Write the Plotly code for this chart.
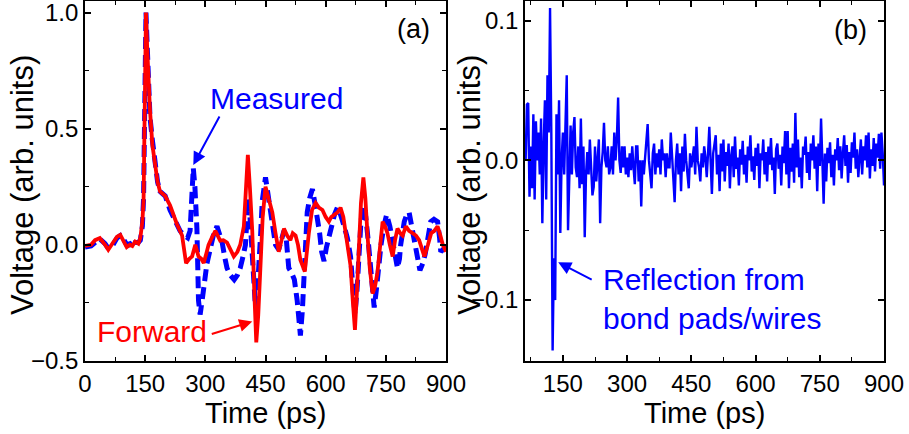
import plotly.graph_objects as go

# ---------------- Panel (a) data ----------------
fwd_t = [0, 15, 25, 37, 50, 58, 70, 80, 88, 96, 104, 112, 118, 125, 133, 138, 143, 146, 149, 152,
         155, 158, 162, 168, 175, 181, 187, 200, 212, 220, 229, 242, 252, 260, 267, 275, 283, 290,
         296, 302, 308, 316, 325, 337, 345, 354, 362, 371, 380, 387, 396, 401, 406, 411, 417, 422,
         427, 432, 437, 443, 450, 458, 467, 475, 483, 490, 496, 504, 512, 518, 525, 531, 537, 548,
         553, 558, 566, 575, 583, 592, 600, 608, 614, 621, 630, 637, 644, 650, 656, 662, 668, 673,
         678, 683, 688, 694, 699, 704, 710, 717, 723, 729, 736, 742, 748, 754, 760, 767, 773, 779,
         786, 792, 800, 808, 817, 825, 833, 840, 846, 855, 863, 871, 879, 886, 892, 900]
fwd_v = [-0.005, 0.0, 0.02, 0.029, 0.0, -0.021, 0.01, 0.035, 0.043, 0.02, -0.01, 0.0, -0.005, 0.014,
         0.005, 0.03, 0.1, 0.19, 0.6, 1.0, 0.85, 0.7, 0.58, 0.43, 0.337, 0.27, 0.23, 0.21, 0.17, 0.13,
         0.09, 0.04, -0.079, -0.06, -0.05, 0.0, -0.05, -0.06, -0.078, -0.04, 0.0, 0.03, 0.06, 0.018,
         0.02, 0.01, -0.02, -0.05, -0.03, 0.0, 0.08, 0.25, 0.387, 0.25, 0.06, -0.2, -0.42, -0.3,
         -0.09, 0.12, 0.25, 0.2, 0.14, 0.05, -0.03, 0.02, 0.07, 0.04, 0.02, 0.05, 0.04, 0.0, -0.065,
         -0.115, -0.03, 0.05, 0.15, 0.18, 0.16, 0.15, 0.12, 0.1, 0.12, 0.13, 0.14, 0.16, 0.12, 0.05,
         -0.02, -0.09, -0.25, -0.366, -0.2, 0.0, 0.18, 0.29, 0.2, 0.05, -0.1, -0.21, -0.18, -0.12,
         0.0, 0.1, 0.08, 0.05, 0.0, -0.05, 0.02, 0.07, 0.05, 0.04, 0.08, 0.06, 0.05, 0.04, 0.02,
         -0.02, -0.05, 0.0, 0.05, 0.06, 0.08, 0.04, 0.0, -0.03]

meas_t = [0, 15, 25, 37, 50, 58, 70, 80, 88, 96, 104, 112, 118, 125, 133, 138, 143, 146, 149, 152,
          155, 158, 162, 168, 175, 181, 187, 200, 212, 225, 237, 248, 256, 262, 266, 270, 274, 279,
          283, 287, 292, 296, 304, 312, 320, 329, 336, 342, 348, 354, 362, 372, 380, 387, 394, 400,
          404, 408, 412, 417, 421, 425, 429, 433, 438, 442, 446, 450, 456, 462, 469, 475, 483, 490,
          496, 502, 508, 515, 522, 529, 533, 537, 542, 546, 550, 554, 560, 567, 573, 579, 585, 590,
          596, 602, 608, 615, 622, 629, 637, 646, 654, 662, 668, 673, 678, 683, 688, 694, 700, 706,
          711, 716, 721, 726, 732, 738, 745, 752, 760, 767, 773, 779, 784, 787, 796, 802, 808, 815,
          821, 828, 835, 842, 848, 855, 862, 870, 879, 884, 887, 893, 900]
meas_v = [-0.01, -0.005, 0.01, 0.025, 0.005, -0.015, 0.0, 0.03, 0.04, 0.025, 0.0, 0.005, -0.01, 0.01,
          0.01, 0.02, 0.08, 0.2, 0.6, 1.0, 0.86, 0.72, 0.55, 0.45, 0.33, 0.27, 0.23, 0.21, 0.15, 0.1,
          0.06, 0.04, 0.03, 0.06, 0.2, 0.33, 0.25, 0.07, -0.24, -0.3, -0.24, -0.17, -0.08, -0.02, 0.04,
          0.08, 0.05, 0.01, -0.05, -0.1, -0.13, -0.15, -0.13, -0.1, -0.05, 0.0, 0.12, 0.2, 0.1, -0.07,
          -0.18, -0.27, -0.22, -0.13, 0.05, 0.19, 0.26, 0.29, 0.22, 0.15, 0.07, 0.0, -0.02, 0.03, 0.06,
          0.02, -0.1, -0.12, -0.15, -0.24, -0.33, -0.39, -0.28, -0.15, 0.0, 0.14, 0.2, 0.24, 0.18, 0.12,
          0.05, -0.03, -0.07, -0.01, 0.04, 0.09, 0.13, 0.16, 0.13, 0.08, 0.03, -0.05, -0.2, -0.3, -0.2,
          -0.02, 0.1, 0.17, 0.12, 0.02, -0.1, -0.2, -0.27, -0.2, -0.09, 0.0, 0.08, 0.13, 0.08, 0.02,
          -0.05, -0.1, -0.06, 0.0, 0.1, 0.13, 0.14, 0.08, 0.02, -0.05, -0.11, -0.08, -0.04, 0.03, 0.1,
          0.11, 0.1, 0.03, -0.03, -0.02, 0.0]

# ---------------- Panel (b) data: sampled every 3 ps from 63 ps to 900 ps ----------------
refl_t = list(range(63, 901, 3))
refl_v = [
    0.0, 0.04, 0.041, -0.026, 0.01, -0.02, 0.033, -0.028, 0.028, 0.0,
    0.02, -0.01, 0.03, -0.045, 0.01, 0.043, -0.028, 0.061, 0.02, 0.109,
    0.019, -0.136, -0.07, -0.1, 0.033, -0.01, 0.043, -0.052, 0.0, 0.02,
    -0.01, 0.02, 0.061, -0.05, 0.0, 0.025, -0.01, 0.02, 0.031, -0.005,
    -0.012, 0.01, -0.02, 0.03, -0.017, 0.01, -0.055, -0.01, 0.006, -0.01,
    0.015, -0.004, -0.025, -0.019, 0.01, -0.015, 0.0, 0.015, -0.045, -0.005,
    0.006, 0.027, 0.0, -0.005, 0.01, -0.01, -0.005, 0.01, -0.01, 0.02,
    0.0, 0.015, 0.045, 0.0, -0.009, 0.01, -0.005, 0.01, -0.01, 0.002,
    -0.012, 0.005, -0.007, 0.01, -0.005, -0.017, 0.01, 0.01, -0.015, 0.0,
    -0.033, 0.0, -0.01, 0.002, 0.01, 0.026, 0.0, -0.01, -0.02, 0.005,
    0.012, -0.01, 0.005, -0.005, 0.008, -0.01, 0.015, 0.0, 0.005, -0.012,
    0.005, -0.005, -0.005, 0.02, 0.0, -0.015, -0.03, 0.0, 0.012, -0.01,
    0.005, -0.022, 0.01, -0.008, 0.019, 0.0, -0.01, -0.02, 0.005, -0.005,
    0.002, 0.01, -0.01, 0.024, 0.0, -0.005, -0.015, 0.005, -0.005, 0.01,
    0.002, -0.012, 0.005, 0.024, 0.0, -0.024, 0.005, 0.01, 0.018, -0.01,
    0.004, -0.022, 0.012, -0.008, 0.015, -0.015, 0.006, -0.004, 0.012, -0.02,
    0.003, 0.01, -0.012, 0.017, -0.006, 0.002, -0.018, 0.008, -0.003, 0.014,
    -0.01, 0.004, -0.016, 0.01, 0.0, 0.018, -0.008, 0.003, -0.014, 0.009,
    -0.004, 0.012, -0.02, 0.005, 0.0, 0.015, -0.01, 0.006, -0.015, 0.01,
    -0.003, 0.016, -0.007, 0.002, -0.024, 0.008, 0.012, -0.006, 0.004, -0.018,
    0.01, -0.002, 0.021, -0.01, 0.021, -0.02, 0.009, -0.008, 0.012, -0.016,
    0.034, -0.005, 0.015, -0.012, 0.002, -0.02, 0.01, 0.004, 0.017, -0.009,
    0.006, -0.014, 0.012, 0.0, 0.018, -0.006, 0.01, -0.022, 0.012, -0.004,
    0.03, 0.0, -0.031, 0.005, -0.015, 0.009, -0.002, 0.013, -0.012, 0.004,
    -0.018, 0.008, 0.0, 0.016, -0.007, 0.01, -0.013, 0.005, 0.018, -0.004,
    0.011, -0.016, 0.006, -0.009, 0.013, 0.002, 0.02, -0.006, 0.008, -0.012,
    0.004, 0.015, -0.01, 0.01, 0.0, 0.018, -0.005, 0.02, -0.013, 0.008,
    -0.004, 0.016, -0.008, 0.012, 0.002, 0.019, -0.006, 0.02, 0.005, -0.018,
]

x_ticks = [0, 150, 300, 450, 600, 750, 900]

BLUE = "#0000FF"
RED = "#FF0000"
FONT = "Liberation Sans, Arial, sans-serif"

fig = go.Figure()
fig.add_trace(go.Scatter(x=meas_t, y=meas_v, mode="lines", name="Measured",
                         line=dict(color=BLUE, width=5, dash="12px,6px"),
                         xaxis="x", yaxis="y"))
fig.add_trace(go.Scatter(x=fwd_t, y=fwd_v, mode="lines", name="Forward",
                         line=dict(color=RED, width=3.8),
                         xaxis="x", yaxis="y"))
fig.add_trace(go.Scatter(x=refl_t, y=refl_v, mode="lines", name="Reflection",
                         line=dict(color=BLUE, width=2.4),
                         xaxis="x2", yaxis="y2"))

W, H = 909, 434

def px(x):
    return x / W

def py(y):
    return 1 - y / H

minor_style = dict(ticks="inside", ticklen=4, tickwidth=1.3, tickcolor="black")
axis_common = dict(showline=True, linecolor="black", linewidth=1.6, mirror="allticks",
                   ticks="inside", ticklen=6, tickwidth=1.5, tickcolor="black",
                   showgrid=False, zeroline=False, automargin=False,
                   ticklabeloverflow="allow",
                   tickfont=dict(family=FONT, size=24, color="black"))

fig.update_layout(
    template="none",
    width=W, height=H, margin=dict(l=0, r=0, t=0, b=0, pad=0), autosize=False,
    paper_bgcolor="white", plot_bgcolor="white", showlegend=False,
    font=dict(family=FONT, color="black"),
    xaxis=dict(domain=[px(85), px(446)], range=[0, 900], tickvals=x_ticks,
               minor=dict(dtick=75, **minor_style), anchor="y", **axis_common),
    yaxis=dict(domain=[py(361), py(1)], range=[-0.5, 1.0495], tickvals=[-0.5, 0.0, 0.5, 1.0],
               tickformat=".1f", minor=dict(dtick=0.25, **minor_style), anchor="x", **axis_common),
    xaxis2=dict(domain=[px(525), px(884)], range=[61.5, 900], tickvals=x_ticks[1:],
                minor=dict(dtick=75, **minor_style), anchor="y2", **axis_common),
    yaxis2=dict(domain=[py(361), py(1)], range=[-0.1436, 0.1141], tickvals=[-0.1, 0.0, 0.1],
                tickformat=".1f", minor=dict(dtick=0.05, **minor_style), anchor="x2", **axis_common),
)


def label(text, x, y, size, color="black", **kw):
    d = dict(text=text, x=px(x), y=py(y), xref="paper", yref="paper", showarrow=False,
             xanchor="center", yanchor="middle", font=dict(family=FONT, size=size, color=color))
    d.update(kw)
    return d


ann = [
    label("Time (ps)", 265, 413, 29),
    label("Time (ps)", 704, 413, 29),
    label("Voltage (arb. units)", 22, 185, 31, textangle=-90),
    label("Voltage (arb. units)", 469, 185, 31, textangle=-90),
    label("(a)", 413, 29, 27),
    label("(b)", 850, 30, 27),
    label("Measured", 276, 98, 30, BLUE),
    label("Forward", 152, 331, 30, RED),
    label("Reflection from<br>bond pads/wires", 601, 299, 30, BLUE, xanchor="left", align="left"),
    # arrows
    dict(text="", x=270, y=0.344, xref="x", yref="y", ax=27, ay=-50,
         showarrow=True, arrowhead=2, arrowsize=1.3, arrowwidth=2, arrowcolor=BLUE),
    dict(text="", x=417, y=-0.33, xref="x", yref="y", ax=-42, ay=13,
         showarrow=True, arrowhead=2, arrowsize=1.3, arrowwidth=2, arrowcolor=RED),
    dict(text="", x=139, y=-0.073, xref="x2", yref="y2", ax=35, ay=18,
         showarrow=True, arrowhead=2, arrowsize=1.3, arrowwidth=2, arrowcolor=BLUE),
]
fig.update_layout(annotations=ann)

fig.write_html("out.html")
